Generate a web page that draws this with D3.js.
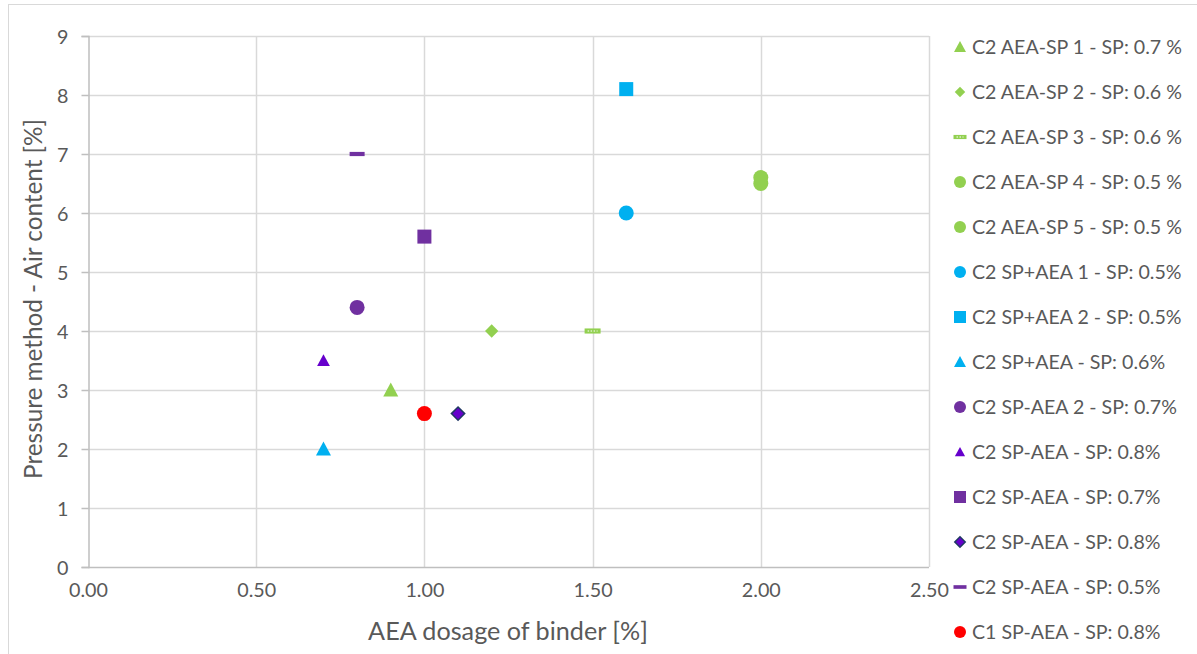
<!DOCTYPE html>
<html><head><meta charset="utf-8">
<script src="https://cdn.jsdelivr.net/npm/d3@7/dist/d3.min.js"></script>
<style>
html,body{margin:0;padding:0;background:#fff;}
svg{display:block;font-family:Lato,"Open Sans",sans-serif;}
</style></head>
<body><svg id="c" width="1197" height="654"></svg>
<script>
// ---- data ----
const seriesNames = [
  "C2 AEA-SP 1 - SP: 0.7 %",
  "C2 AEA-SP 2 - SP: 0.6 %",
  "C2 AEA-SP 3 - SP: 0.6 %",
  "C2 AEA-SP 4 - SP: 0.5 %",
  "C2 AEA-SP 5 - SP: 0.5 %",
  "C2 SP+AEA 1 - SP: 0.5%",
  "C2 SP+AEA 2 - SP: 0.5%",
  "C2 SP+AEA - SP: 0.6%",
  "C2 SP-AEA 2 - SP: 0.7%",
  "C2 SP-AEA - SP: 0.8%",
  "C2 SP-AEA - SP: 0.7%",
  "C2 SP-AEA - SP: 0.8%",
  "C2 SP-AEA - SP: 0.5%",
  "C1 SP-AEA - SP: 0.8%"
];
const xValues = [0.9, 1.2, 1.5, 2.0, 2.0, 1.6, 1.6, 0.7, 0.8, 0.7, 1.0, 1.1, 0.8, 1.0];
const yValues = [3.0, 4.0, 4.0, 6.5, 6.6, 6.0, 8.1, 2.0, 4.4, 3.5, 5.6, 2.6, 7.0, 2.6];
const markerShapes = ["triangle","diamond","dashDotted","circle","circle","circle","square","triangle","circle","triangleSmall","square","diamondOutlined","dash","circle"];
const markerColors = ["#92D050","#92D050","#92D050","#92D050","#92D050","#00B0F0","#00B0F0","#00B0F0","#7030A0","#6600CC","#7030A0","#6600CC","#7030A0","#FF0000"];
const xTicks = [0, 0.5, 1.0, 1.5, 2.0, 2.5];
const yTicks = [0,1,2,3,4,5,6,7,8,9];
const xTitle = "AEA dosage of binder [%]";
const yTitle = "Pressure method - Air content [%]";

// ---- layout ----
const svg = d3.select("#c");
const W = 1197, H = 654;
const plot = {left: 88, right: 929, top: 36, bottom: 567};
const x = d3.scaleLinear().domain([0, 2.5]).range([plot.left, plot.right]);
const y = d3.scaleLinear().domain([0, 9]).range([plot.bottom, plot.top]);
const textColor = "#595959";

// fit a text element's font size so that it spans a target width
function fitFont(textSel, targetWidth, base) {
  textSel.attr("font-size", base);
  const w = textSel.node().getComputedTextLength();
  const fs = base * targetWidth / w;
  return fs;
}

// outer border
svg.append("rect").attr("x", 8.5).attr("y", 4.5).attr("width", W).attr("height", H)
  .attr("fill", "#fff").attr("stroke", "#D9D9D9").attr("stroke-width", 1);

// gridlines
const g = svg.append("g");
g.selectAll("line.hg").data(yTicks.filter(d => d > 0)).join("line")
  .attr("x1", plot.left).attr("x2", plot.right)
  .attr("y1", d => Math.round(y(d)) + 0.5).attr("y2", d => Math.round(y(d)) + 0.5)
  .attr("stroke", "#D9D9D9").attr("stroke-width", 1.5);
g.selectAll("line.vg").data(xTicks.filter(d => d > 0)).join("line")
  .attr("y1", plot.top).attr("y2", plot.bottom)
  .attr("x1", d => Math.round(x(d)) + 0.5).attr("x2", d => Math.round(x(d)) + 0.5)
  .attr("stroke", "#D9D9D9").attr("stroke-width", 1.5);

// axes
const yAxis = d3.axisLeft(y).tickValues(yTicks).tickFormat(d3.format("d")).tickSize(7).tickPadding(13);
const xAxis = d3.axisBottom(x).tickValues(xTicks).tickFormat(d3.format(".2f")).tickSize(0).tickPadding(20);
const ya = svg.append("g").attr("transform", `translate(${plot.left + 0.5},0)`).call(yAxis);
const xa = svg.append("g").attr("transform", `translate(0,${plot.bottom + 0.5})`).call(xAxis);
// tick font sized so "0.00" spans ~39px
const probe = svg.append("text").attr("font-family", "Lato, sans-serif").text("0.00");
const tickFs = fitFont(probe, 39, 17);
probe.remove();
[ya, xa].forEach(a => {
  a.select(".domain").attr("stroke", "#BFBFBF").attr("stroke-width", 1.5);
  a.selectAll(".tick line").attr("stroke", "#BFBFBF").attr("stroke-width", 1.5);
  a.selectAll("text").attr("fill", textColor).attr("font-size", tickFs).attr("font-family", "Lato, sans-serif");
});
ya.selectAll("text").attr("dy", "0.36em");
xa.selectAll("text").attr("dy", "0.5em");
xa.select(".domain").attr("d", `M${plot.left},0H${plot.right}`);

// titles
const xt = svg.append("text").attr("x", 508).attr("y", 640)
  .attr("text-anchor", "middle").attr("fill", textColor).text(xTitle);
xt.attr("font-size", fitFont(xt, 280, 20));
const yt = svg.append("text").attr("transform", `translate(42,${(119 + 479) / 2}) rotate(-90)`)
  .attr("text-anchor", "middle").attr("fill", textColor).text(yTitle);
yt.attr("font-size", fitFont(yt, 360, 20));

// marker drawing
function drawMarker(sel, shape, color, s) {
  const h = s / 2;
  if (shape === "circle") {
    sel.append("circle").attr("r", h).attr("fill", color);
  } else if (shape === "square") {
    sel.append("rect").attr("x", -h).attr("y", -h).attr("width", s).attr("height", s).attr("fill", color);
  } else if (shape === "triangle" || shape === "triangleSmall") {
    const k = shape === "triangleSmall" ? 0.85 : 1;
    const a = h * k;
    sel.append("path").attr("d", `M0,${-a * 1.0}L${a},${a * 0.85}L${-a},${a * 0.85}Z`).attr("fill", color);
  } else if (shape === "diamond" || shape === "diamondOutlined") {
    const a = h * 0.95;
    sel.append("path").attr("d", `M0,${-a}L${a},0L0,${a}L${-a},0Z`).attr("fill", color)
      .attr("stroke", shape === "diamondOutlined" ? "#203864" : "none").attr("stroke-width", 1.5);
  } else if (shape === "dash") {
    sel.append("rect").attr("x", -h).attr("y", -s * 0.14).attr("width", s).attr("height", s * 0.28).attr("fill", color);
  } else if (shape === "dashDotted") {
    sel.append("rect").attr("x", -h).attr("y", -s * 0.16).attr("width", s).attr("height", s * 0.32).attr("fill", color);
    sel.append("line").attr("x1", -h + 3).attr("x2", h - 3).attr("y1", 0).attr("y2", 0)
      .attr("stroke", "#fff").attr("stroke-width", 1).attr("stroke-dasharray", "1.5,1.5");
  }
}

// points
const pts = svg.append("g");
seriesNames.forEach((name, i) => {
  const m = pts.append("g").attr("transform", `translate(${x(xValues[i])},${y(yValues[i])})`);
  let s = 15;
  if (markerShapes[i] === "diamond" || markerShapes[i] === "diamondOutlined") s = 14;
  if (markerShapes[i] === "dashDotted") s = 16;
  if (markerShapes[i] === "square") s = 14;
  drawMarker(m, markerShapes[i], markerColors[i], s);
});

// legend
const legY = d3.scaleLinear().domain([0, seriesNames.length - 1]).range([47, 632]);
const leg = svg.append("g");
const lprobe = svg.append("text").text(seriesNames[0]);
const legFs = fitFont(lprobe, 210, 18);
lprobe.remove();
seriesNames.forEach((name, i) => {
  const row = leg.append("g").attr("transform", `translate(0,${legY(i)})`);
  const m = row.append("g").attr("transform", `translate(960,0)`);
  let s = 12;
  if (markerShapes[i] === "diamond" || markerShapes[i] === "diamondOutlined") s = 11;
  if (markerShapes[i] === "dashDotted" || markerShapes[i] === "dash") s = 13;
  drawMarker(m, markerShapes[i], markerColors[i], s);
  row.append("text").attr("x", 972).attr("y", 0).attr("dy", "0.36em")
    .attr("fill", textColor).attr("font-size", legFs).text(name);
});
</script></body></html>
